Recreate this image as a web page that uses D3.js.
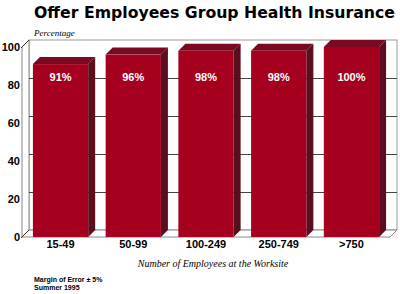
<!DOCTYPE html>
<html>
<head>
<meta charset="utf-8">
<script src="https://cdnjs.cloudflare.com/ajax/libs/d3/7.8.5/d3.min.js"></script>
<style>
  body { margin: 0; background: #fff; }
  svg { display: block; }
</style>
</head>
<body>
<script>
const WIDTH = 400;
const HEIGHT = 294;
const DEPTH = 7;

// chart data
const categories = ["15-49", "50-99", "100-249", "250-749", ">750"];
const values     = [91, 96, 98, 98, 100];
const valueLabels = ["91%", "96%", "98%", "98%", "100%"];
const yTicks     = [0, 20, 40, 60, 80, 100];

const svg = d3.select("body").append("svg")
    .attr("width", WIDTH)
    .attr("height", HEIGHT);

// front plane scales
const xScale = d3.scaleBand().domain(categories).range([22, 390])
    .paddingInner(0.24).paddingOuter(0.15);
const yScale = d3.scaleLinear().domain([0, 100]).range([237, 47]);

const x0 = xScale.range()[0], x1 = xScale.range()[1];
const yBot = yScale(0), yTop = yScale(100);
const LABEL_FONT = "Liberation Sans";

// Title
svg.append("text")
    .attr("x", 34).attr("y", 18)
    .attr("textLength", 361).attr("lengthAdjust", "spacingAndGlyphs")
    .style("font-family", "DejaVu Sans").style("font-weight", "bold")
    .style("font-size", "15.5px")
    .text("Offer Employees Group Health Insurance");

svg.append("text")
    .attr("x", 34).attr("y", 36)
    .style("font-family", "Liberation Serif").style("font-style", "italic")
    .style("font-size", "9px")
    .text("Percentage");

// back wall
svg.append("rect")
    .attr("x", x0 + DEPTH).attr("y", yTop - DEPTH)
    .attr("width", x1 - x0).attr("height", yBot - yTop)
    .attr("fill", "#fff").attr("stroke", "#999").attr("stroke-width", 1);

// left wall
svg.append("polygon")
    .attr("points", [[x0, yBot], [x0, yTop], [x0 + DEPTH, yTop - DEPTH], [x0 + DEPTH, yBot - DEPTH]].join(" "))
    .attr("fill", "#fff").attr("stroke", "#888");

// floor
svg.append("polygon")
    .attr("points", [[x0, yBot], [x1, yBot], [x1 + DEPTH, yBot - DEPTH], [x0 + DEPTH, yBot - DEPTH]].join(" "))
    .attr("fill", "#fff").attr("stroke", "#888");

// gridlines on back wall
svg.selectAll("line.grid")
    .data(yTicks.filter(d => d > 0 && d < 100))
    .enter().append("line").attr("class", "grid")
    .attr("x1", x0 + DEPTH).attr("x2", x1 + DEPTH)
    .attr("y1", d => yScale(d) - DEPTH + 0.5)
    .attr("y2", d => yScale(d) - DEPTH + 0.5)
    .attr("stroke", "#444").attr("stroke-width", 1);

// diagonal ticks at 0 and 100
svg.selectAll("line.diag")
    .data([0, 100])
    .enter().append("line").attr("class", "diag")
    .attr("x1", x0 - 1).attr("x2", x0 + DEPTH)
    .attr("y1", d => yScale(d) + 1).attr("y2", d => yScale(d) - DEPTH)
    .attr("stroke", "#333");

// y tick labels
svg.selectAll("text.ytick")
    .data(yTicks)
    .enter().append("text").attr("class", "ytick")
    .attr("x", 20).attr("y", d => yScale(d) + 4)
    .attr("text-anchor", "end")
    .style("font-family", LABEL_FONT).style("font-weight", "bold")
    .style("font-size", "11px")
    .text(d => d);

// bars
const bw = xScale.bandwidth();
const bars = svg.selectAll("g.bar")
    .data(values)
    .enter().append("g").attr("class", "bar");

bars.append("polygon") // top face
    .attr("points", (d, i) => {
      const x = xScale(categories[i]), y = yScale(d);
      return [[x, y], [x + bw, y], [x + bw + DEPTH, y - DEPTH], [x + DEPTH, y - DEPTH]].join(" ");
    })
    .attr("fill", "#7a0a22");

bars.append("polygon") // side face
    .attr("points", (d, i) => {
      const x = xScale(categories[i]) + bw, y = yScale(d);
      return [[x, y], [x + DEPTH, y - DEPTH], [x + DEPTH, yBot - DEPTH], [x, yBot]].join(" ");
    })
    .attr("fill", "#5a0f1f");

bars.append("rect") // front face
    .attr("x", (d, i) => xScale(categories[i]))
    .attr("y", d => yScale(d))
    .attr("width", bw)
    .attr("height", d => yBot - yScale(d))
    .attr("fill", "#a6001f");

bars.append("text")
    .attr("x", (d, i) => xScale(categories[i]) + bw / 2)
    .attr("y", (d, i) => yScale(82))
    .attr("text-anchor", "middle")
    .attr("fill", "#fff")
    .style("font-family", LABEL_FONT).style("font-weight", "bold")
    .style("font-size", "11px")
    .text((d, i) => valueLabels[i]);

// x axis labels
svg.selectAll("text.xtick")
    .data(categories)
    .enter().append("text").attr("class", "xtick")
    .attr("x", d => xScale(d) + bw / 2).attr("y", 248)
    .attr("text-anchor", "middle")
    .style("font-family", LABEL_FONT).style("font-weight", "bold")
    .style("font-size", "11px")
    .text(d => d);

svg.append("text")
    .attr("x", 213).attr("y", 267)
    .attr("text-anchor", "middle")
    .style("font-family", "Liberation Serif").style("font-style", "italic")
    .style("font-size", "10px")
    .text("Number of Employees at the Worksite");

// footnotes
svg.append("text")
    .attr("x", 34).attr("y", 282)
    .style("font-family", LABEL_FONT).style("font-weight", "bold")
    .style("font-size", "7px")
    .text("Margin of Error \u00B1 5%");
svg.append("text")
    .attr("x", 34).attr("y", 290)
    .style("font-family", LABEL_FONT).style("font-weight", "bold")
    .style("font-size", "7px")
    .text("Summer 1995");
</script>
</body>
</html>
